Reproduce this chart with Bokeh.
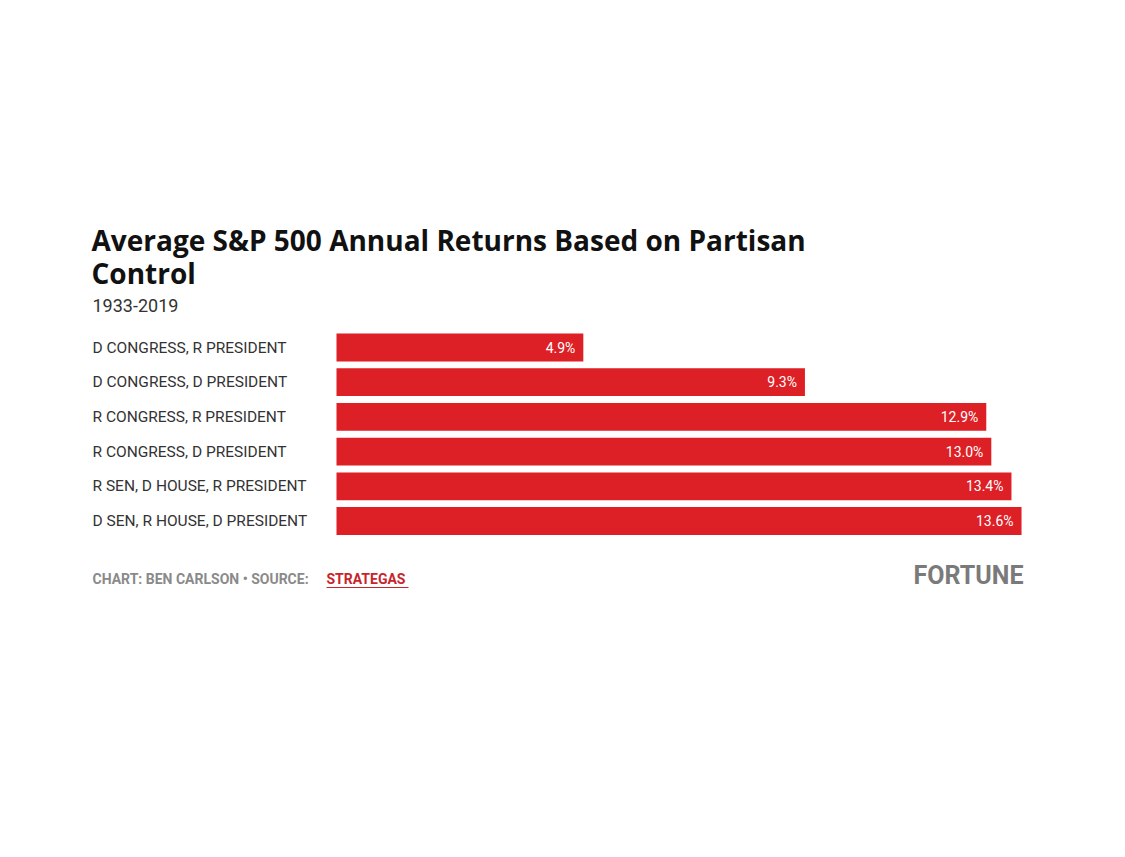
from bokeh.plotting import figure
from bokeh.models import Range1d, Label, ColumnDataSource
from bokeh.core.properties import value
from bokeh.embed import file_html
from bokeh.resources import INLINE

categories = ["D CONGRESS, R PRESIDENT", "D CONGRESS, D PRESIDENT", "R CONGRESS, R PRESIDENT",
              "R CONGRESS, D PRESIDENT", "R SEN, D HOUSE, R PRESIDENT", "D SEN, R HOUSE, D PRESIDENT"]
returns = [4.9, 9.3, 12.9, 13.0, 13.4, 13.6]
labels = ["4.9%", "9.3%", "12.9%", "13.0%", "13.4%", "13.6%"]

W, H = 1109, 841
sx = 50.37
x0 = 336
pitch = 34.7
y0 = 347
p = figure(width=W, height=H, output_backend="svg", toolbar_location=None,
           x_range=Range1d(-x0 / sx, (W - x0) / sx),
           y_range=Range1d((H - y0) / pitch, -y0 / pitch),
           min_border=0, outline_line_color=None)
p.axis.visible = False
p.grid.visible = False
p.background_fill_color = "white"

F = "Roboto"
rows = list(range(len(categories)))
src = ColumnDataSource(dict(y=rows, v=returns, cat=categories, lab=labels,
                            lx=[-244 / sx] * len(rows), vx=[r - 8 / sx for r in returns]))
p.hbar(y="y", left=0, right="v", height=0.8, source=src, fill_color="#dd1f26", line_color=None)
p.text(x="lx", y="y", text="cat", source=src, text_font=value(F),
       text_font_size="15.5px", text_color="#333333", text_baseline="middle", text_align="left")
p.text(x="vx", y="y", text="lab", source=src, text_font=value(F),
       text_font_size="14px", text_color="white", text_baseline="middle", text_align="right")

def sy(page_y):
    return H - page_y

def lab(txt, x, y, size, color, font, style="normal", align="left"):
    p.add_layout(Label(x=x, y=sy(y), x_units="screen", y_units="screen", text=txt,
                       text_font_size=size, text_color=color, text_font=font, text_font_style=style,
                       text_baseline="middle", text_align=align))

lab("Average S&P 500 Annual Returns Based on Partisan", 91, 239, "28px", "#111111", "Open Sans", "bold")
lab("Control", 91, 272, "28px", "#111111", "Open Sans", "bold")
lab("1933-2019", 92, 305, "18px", "#333333", F)
lab("CHART: BEN CARLSON \u2022 SOURCE:", 92, 578, "14px", "#8a8a8a", F, "bold")
lab("STRATEGAS", 326, 578, "14px", "#c8242b", F, "bold")
lab("FORTUNE", 1023, 575, "25px", "#7a7a7a", F, "bold", "right")
p.segment(x0=[-10 / sx], y0=[(587 - y0) / pitch], x1=[72 / sx], y1=[(587 - y0) / pitch],
          line_color="#c8242b", line_width=1)
open("out.html", "w").write(file_html(p, INLINE))
